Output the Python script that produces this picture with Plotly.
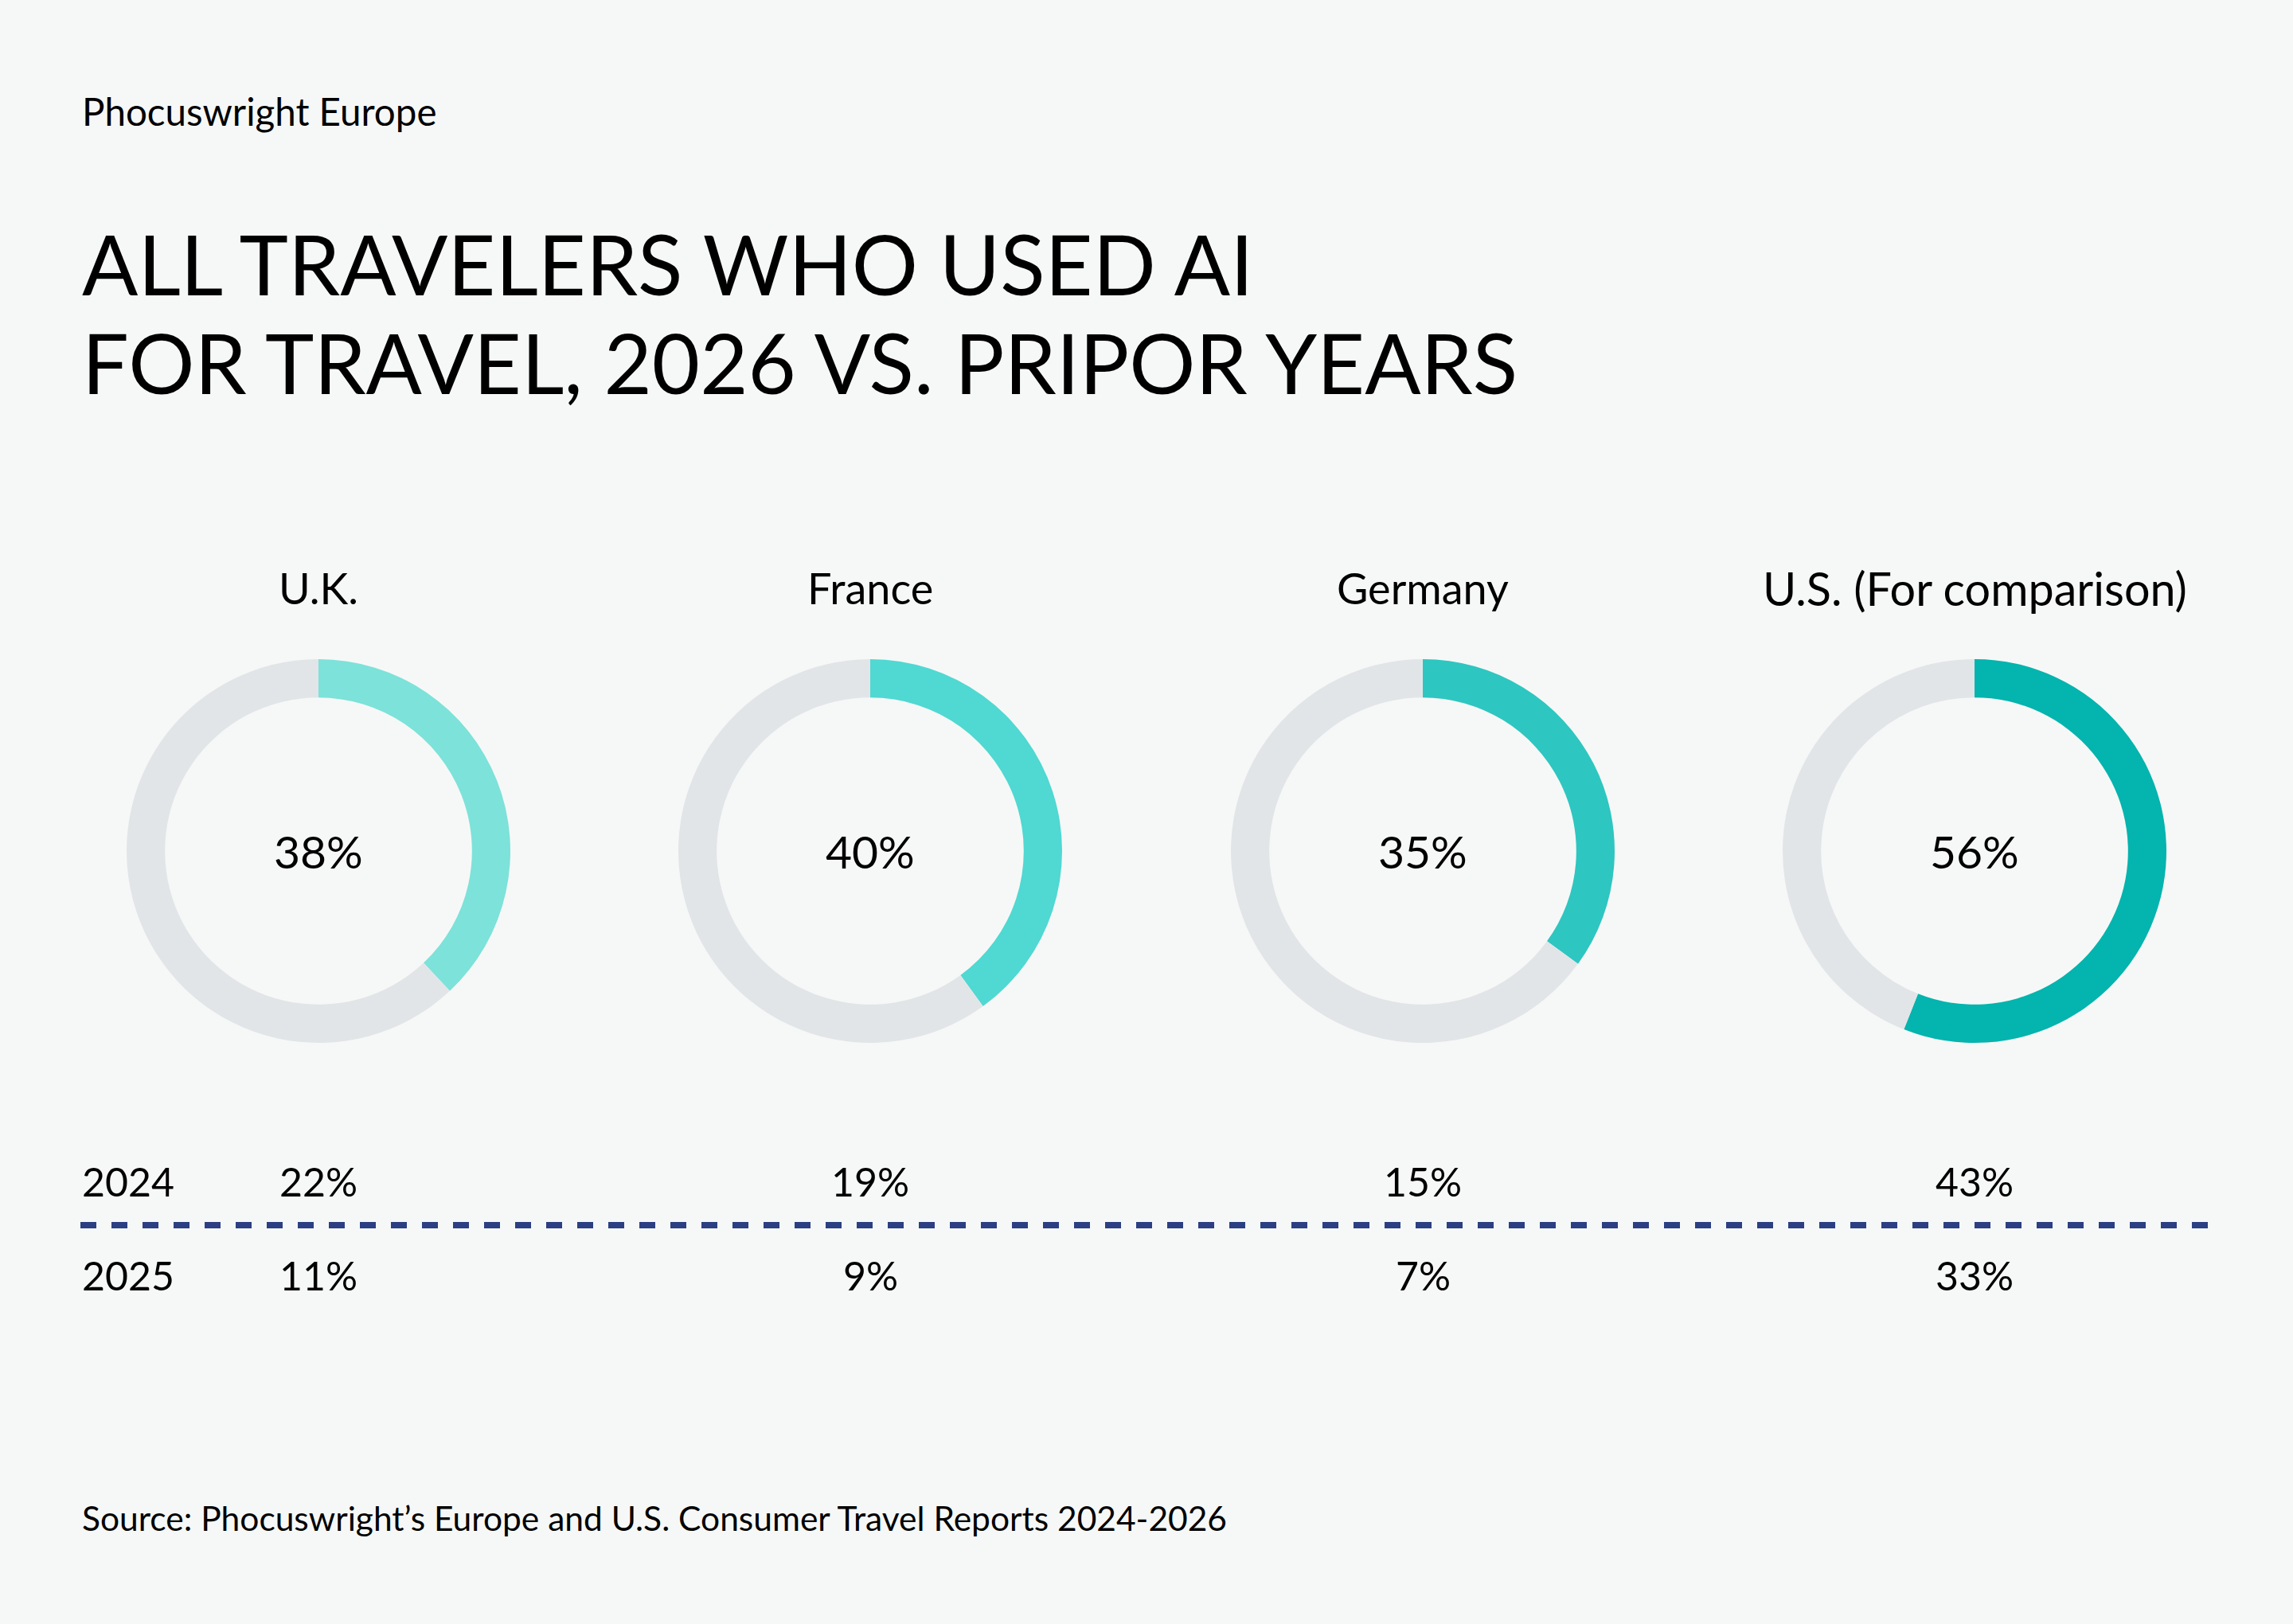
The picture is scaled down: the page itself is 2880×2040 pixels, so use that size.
import plotly.graph_objects as go

countries = ["U.K.", "France", "Germany", "U.S. (For comparison)"]
share_2026 = [38, 40, 35, 56]
share_2024 = [22, 19, 15, 43]
share_2025 = [11, 9, 7, 33]
years = ["2024", "2025"]
colors = ["#7DE2D9", "#50D8D2", "#2EC6C0", "#04B4AE"]
gray = "#E2E5E8"
bg = "#F6F8F7"
navy = "#2B3F82"

W, H = 2880, 2040
FONT = "Lato"

centers_x = [400, 1093, 1787, 2480]
cy = 1069
R = 241

fig = go.Figure()
for i, c in enumerate(countries):
    cx = centers_x[i]
    fig.add_trace(go.Pie(
        values=[share_2026[i], 100 - share_2026[i]],
        labels=["Used AI", "Did not"],
        marker=dict(colors=[colors[i], gray], line=dict(width=0)),
        hole=0.80,
        sort=False,
        direction="clockwise",
        rotation=0,
        textinfo="none",
        hoverinfo="label+percent",
        showlegend=False,
        domain=dict(x=[(cx - R) / W, (cx + R) / W],
                    y=[(H - cy - R) / H, (H - cy + R) / H]),
    ))

ann = []
def txt(x, y, s, size, xanchor="center"):
    ann.append(dict(x=x / W, y=1 - y / H, xref="paper", yref="paper", text=s,
                    showarrow=False, xanchor=xanchor, yanchor="middle",
                    font=dict(family=FONT, size=size, color="#000000")))

txt(101, 140, "Phocuswright Europe", 47.5, "left")
txt(101, 331, "ALL TRAVELERS WHO USED AI", 104, "left")
txt(101, 454, "FOR TRAVEL, 2026 VS. PRIPOR YEARS", 104, "left")

label_sizes = [54, 54, 54, 57.5]
for i, c in enumerate(countries):
    txt(centers_x[i], 738, c, label_sizes[i])
    txt(centers_x[i], cy, f"{share_2026[i]}%", 57)
    txt(centers_x[i], 1484, f"{share_2024[i]}%", 50)
    txt(centers_x[i], 1602, f"{share_2025[i]}%", 50)

txt(101, 1484, years[0], 50, "left")
txt(101, 1602, years[1], 50, "left")
txt(101, 1906, "Source: Phocuswright\u2019s Europe and U.S. Consumer Travel Reports 2024-2026", 42.5, "left")

fig.add_shape(type="line", xref="paper", yref="paper",
              x0=101 / W, x1=2783 / W, y0=1 - 1539 / H, y1=1 - 1539 / H,
              line=dict(color=navy, width=8, dash="20px,19px"))

fig.update_layout(
    width=W, height=H,
    margin=dict(l=0, r=0, t=0, b=0),
    paper_bgcolor=bg, plot_bgcolor=bg,
    annotations=ann,
)
fig.write_html("out.html")
